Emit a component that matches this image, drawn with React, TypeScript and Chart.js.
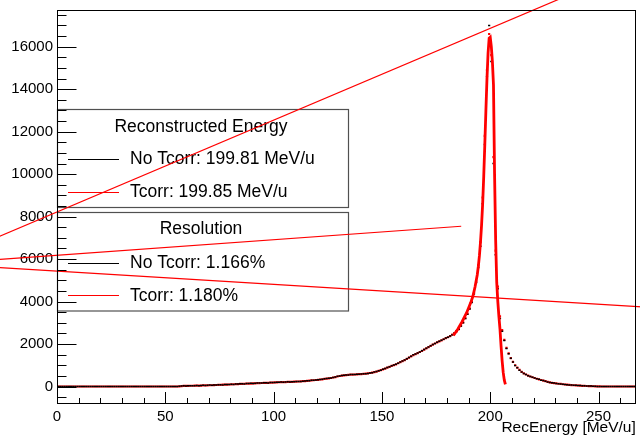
import React, { useEffect, useRef } from 'react';
import { Chart, registerables } from 'chart.js';

Chart.register(...registerables);

// ---- axis ranges & ticks ----
const X_MIN = 0;
const X_MAX = 267.2;
const Y_MIN = -824;
const Y_MAX = 17729;
const xTickValues = [0, 50, 100, 150, 200, 250];
const yTickValues = [0, 2000, 4000, 6000, 8000, 10000, 12000, 14000, 16000];
const xMinorStep = 10;
const yMinorStep = 500;

// ---- histogram binning (1 MeV/u bins starting at 0) ----
const binLow = 0;
const binWidth = 1;

// RecEnergy histogram, no Tcorr (black)
const noTcorrCounts = [
  0, 0, 0, 0, 0, 0, 0, 0, 0, 0,
  0, 0, 0, 0, 0, 0, 0, 0, 0, 0,
  0, 0, 0, 0, 0, 0, 0, 0, 0, 0,
  0, 0, 0, 0, 0, 0, 0, 0, 0, 0,
  0, 0, 0, 0, 0, 0, 0, 0, 0, 0,
  0, 0, 0, 0, 0,
  0, 15, 25, 30, 20, 35, 30, 40, 35, 45,
  40, 50, 55, 45, 60, 65, 55, 70, 75, 80,
  85, 75, 90, 95, 100, 105, 95, 115, 120, 125,
  130, 120, 140, 145, 150, 140, 155, 160, 165, 160,
  175, 180, 170, 185, 190, 185, 195, 200, 210, 205,
  210, 220, 215, 225, 220, 230, 240, 235, 250, 260,
  270, 265, 290, 300, 310, 320, 330, 345, 360, 375,
  390, 405, 420, 450, 480, 500, 520, 530, 540, 545,
  560, 565, 570, 575, 580, 590, 600, 605, 615, 630,
  650, 680, 710, 740, 770, 810, 850, 890, 930, 975,
  1010, 1050, 1100, 1150, 1200, 1250, 1310, 1370, 1430, 1490,
  1530, 1580, 1630, 1680, 1740, 1800, 1860, 1920, 1980, 2030,
  2080, 2130, 2180, 2230, 2280, 2320, 2380, 2440, 2520, 2620,
  2700, 2850, 3000, 3200, 3400, 3650, 3950, 4350, 4900, 5600,
  6600, 8600, 11400, 14600, 17000, 15300, 10500, 6200, 4600, 3200,
  2600, 2170, 1790, 1540, 1330, 1150, 990, 880, 770, 680,
  610, 560, 510, 470, 430, 400, 370, 340, 300, 280,
  250, 210, 190, 175, 160, 145, 135, 120, 105, 95,
  85, 75, 70, 60, 55, 48, 42, 35, 30, 25,
  20, 18, 12, 8, 5, 3, 0,
  0, 0, 0, 0, 0, 0, 0, 0, 0, 0,
  0, 0, 0, 0, 0,
];

// RecEnergy histogram, Tcorr (red)
const tcorrCounts = [
  0, 0, 0, 0, 0, 0, 0, 0, 0, 0,
  0, 0, 0, 0, 0, 0, 0, 0, 0, 0,
  0, 0, 0, 0, 0, 0, 0, 0, 0, 0,
  0, 0, 0, 0, 0, 0, 0, 0, 0, 0,
  0, 0, 0, 0, 0, 0, 0, 0, 0, 0,
  0, 0, 0, 0, 0,
  0, 10, 20, 25, 25, 30, 35, 35, 40, 40,
  45, 45, 50, 50, 55, 60, 60, 65, 70, 75,
  80, 85, 85, 90, 95, 100, 105, 110, 115, 120,
  125, 130, 135, 140, 140, 145, 150, 155, 160, 165,
  170, 175, 175, 180, 185, 190, 195, 200, 205, 205,
  210, 215, 220, 220, 225, 230, 235, 240, 250, 255,
  265, 275, 285, 295, 305, 315, 330, 340, 355, 370,
  385, 400, 425, 445, 470, 495, 515, 525, 535, 545,
  555, 560, 565, 570, 580, 585, 595, 605, 620, 635,
  655, 675, 705, 735, 770, 805, 845, 885, 925, 970,
  1005, 1045, 1095, 1145, 1195, 1245, 1300, 1360, 1420, 1480,
  1525, 1575, 1625, 1680, 1735, 1795, 1855, 1915, 1975, 2025,
  2075, 2125, 2175, 2225, 2275, 2320, 2375, 2440, 2510, 2600,
  2700, 2860, 3020, 3220, 3430, 3680, 3990, 4400, 4950, 5700,
  6800, 8900, 11800, 14900, 16600, 15600, 10800, 6400, 4700, 3300,
  2650, 2200, 1820, 1560, 1340, 1160, 1000, 890, 780, 690,
  615, 565, 515, 470, 435, 400, 365, 335, 305, 280,
  250, 215, 195, 175, 160, 145, 130, 120, 105, 95,
  85, 78, 68, 60, 52, 46, 40, 34, 28, 24,
  20, 16, 12, 8, 5, 2, 0,
  0, 0, 0, 0, 0, 0, 0, 0, 0, 0,
  0, 0, 0, 0, 0,
];

// peak fit function (thick red)
const fitEnergy = [183, 185, 187, 189, 190, 191, 192, 193, 194, 194.5, 195, 195.5, 196, 196.5, 197, 197.5, 198, 198.5, 199, 199.5, 200, 200.5, 201, 201.5, 202, 202.5, 203, 203.5, 204, 204.5, 205, 205.5, 206, 206.5, 207];
const fitCounts = [2400, 2700, 3050, 3450, 3700, 3950, 4250, 4700, 5250, 5650, 6150, 6800, 7600, 8600, 9900, 11400, 13000, 14500, 15700, 16400, 16450, 16000, 15300, 14200, 10000, 6900, 4900, 4000, 3300, 2700, 1900, 1200, 650, 300, 100];

// straight fit lines (thin red)
const line1Energy = [-30, 240];
const line1Counts = [6920, 18595];
const line2Energy = [-30, 186.6];
const line2Counts = [5964, 7545];
const line3Energy = [-30, 270];
const line3Counts = [5617, 3748];

// legend texts
const legend1Title = 'Reconstructed Energy';
const legend1Entries = ['No Tcorr: 199.81 MeV/u', 'Tcorr: 199.85 MeV/u'];
const legend2Title = 'Resolution';
const legend2Entries = ['No Tcorr: 1.166%', 'Tcorr: 1.180%'];
const entryColors = ['#000000', '#ff0000'];

const FONT = '"Liberation Sans", Arial, Helvetica, sans-serif';

const toXY = (xs: number[], ys: number[]) => xs.map((x, i) => ({ x, y: ys[i] }));
const histXY = (counts: number[]) => counts.map((c, i) => ({ x: binLow + (i + 0.5) * binWidth, y: c }));

const rootPlugin = {
  id: 'rootDecor',
  beforeDatasetsDraw(chart: any) {
    const ctx = chart.ctx;
    const boxes = [
      { top: 109.5, bottom: 207.5, title: legend1Title, titleY: 127, entries: legend1Entries, ys: [158.5, 191.5] },
      { top: 212.5, bottom: 311, title: legend2Title, titleY: 229.5, entries: legend2Entries, ys: [262.5, 295] },
    ];
    const left = 57.5;
    const right = 348.5;
    ctx.save();
    boxes.forEach((b) => {
      ctx.strokeStyle = '#505050';
      ctx.lineWidth = 1.2;
      ctx.strokeRect(left, b.top, right - left, b.bottom - b.top);
      ctx.fillStyle = '#000';
      ctx.font = `17.5px ${FONT}`;
      ctx.textBaseline = 'middle';
      ctx.textAlign = 'center';
      ctx.fillText(b.title, 201, b.titleY);
      ctx.textAlign = 'left';
      b.entries.forEach((t, i) => {
        ctx.strokeStyle = entryColors[i];
        ctx.lineWidth = 1;
        ctx.beginPath();
        ctx.moveTo(68, Math.round(b.ys[i]) + 0.5);
        ctx.lineTo(119, Math.round(b.ys[i]) + 0.5);
        ctx.stroke();
        ctx.fillStyle = '#000';
        ctx.fillText(t, 130, b.ys[i] + 1);
      });
    });
    ctx.restore();
  },
  afterDraw(chart: any) {
    const ctx = chart.ctx;
    const { left, right, top, bottom } = chart.chartArea;
    const xs = chart.scales.x;
    const ys = chart.scales.y;
    ctx.save();
    ctx.strokeStyle = '#000';
    ctx.lineWidth = 1;
    ctx.strokeRect(Math.round(left) + 0.5, Math.round(top) + 0.5, Math.round(right - left) - 1, Math.round(bottom - top) - 1);
    ctx.beginPath();
    const lx = Math.round(left) + 0.5;
    for (let v = Math.ceil(Y_MIN / yMinorStep) * yMinorStep; v <= Y_MAX; v += yMinorStep) {
      const py = Math.round(ys.getPixelForValue(v)) + 0.5;
      const major = v % 2000 === 0;
      ctx.moveTo(lx, py);
      ctx.lineTo(lx + (major ? 19 : 9), py);
    }
    const by = Math.round(bottom) - 0.5;
    for (let v = 0; v <= X_MAX; v += xMinorStep) {
      const px = Math.round(xs.getPixelForValue(v)) + 0.5;
      const major = v % 50 === 0;
      ctx.moveTo(px, by);
      ctx.lineTo(px, by - (major ? 11.5 : 5.5));
    }
    ctx.stroke();
    ctx.restore();
  },
};

export default function App() {
  const canvasRef = useRef<HTMLCanvasElement | null>(null);

  useEffect(() => {
    if (!canvasRef.current) return;
    const chart = new Chart(canvasRef.current, {
      type: 'scatter',
      data: {
        datasets: [
          { data: toXY(line1Energy, line1Counts), showLine: true, borderColor: '#ff0000', borderWidth: 1.2, pointRadius: 0, clip: false as any },
          { data: toXY(line2Energy, line2Counts), showLine: true, borderColor: '#ff0000', borderWidth: 1.2, pointRadius: 0, clip: false as any },
          { data: toXY(line3Energy, line3Counts), showLine: true, borderColor: '#ff0000', borderWidth: 1.2, pointRadius: 0, clip: false as any },
          { data: toXY(fitEnergy, fitCounts), showLine: true, borderColor: '#ff0000', borderWidth: 2.8, pointRadius: 0 },
          { data: histXY(noTcorrCounts), pointStyle: 'line', pointRadius: 1.1, pointBorderWidth: 1.5, pointBorderColor: '#000000', pointBackgroundColor: '#000000' },
          { data: histXY(tcorrCounts), pointStyle: 'line', pointRadius: 1.1, pointBorderWidth: 2.2, pointBorderColor: '#ff0000', pointBackgroundColor: '#ff0000' },
        ],
      },
      options: {
        animation: false,
        responsive: false,
        devicePixelRatio: 1,
        layout: { padding: { top: 10, right: 3, left: 0, bottom: 0 } },
        plugins: { legend: { display: false }, tooltip: { enabled: false } },
        scales: {
          x: {
            type: 'linear',
            min: X_MIN,
            max: X_MAX,
            grid: { display: false, drawTicks: false },
            border: { display: false },
            afterBuildTicks: (s: any) => { s.ticks = xTickValues.map((v) => ({ value: v })); },
            afterFit: (s: any) => { s.height = 37; s.paddingLeft = 0; s.paddingRight = 0; s.paddingTop = 0; s.paddingBottom = 0; },
            ticks: { color: '#000', font: { family: FONT, size: 15 }, padding: 4, maxRotation: 0, callback: (v: any) => String(v) },
            title: { display: true, text: 'RecEnergy [MeV/u]', align: 'end', color: '#000', font: { family: FONT, size: 15.5 }, padding: { top: 0, bottom: 4 } },
          },
          y: {
            type: 'linear',
            min: Y_MIN,
            max: Y_MAX,
            grid: { display: false, drawTicks: false },
            border: { display: false },
            afterBuildTicks: (s: any) => { s.ticks = yTickValues.map((v) => ({ value: v })); },
            afterFit: (s: any) => { s.width = 57; s.paddingTop = 0; s.paddingBottom = 0; s.paddingLeft = 0; s.paddingRight = 0; },
            ticks: { color: '#000', font: { family: FONT, size: 15 }, padding: 4, callback: (v: any) => String(v) },
          },
        },
      } as any,
      plugins: [rootPlugin],
    });
    return () => chart.destroy();
  }, []);

  return (
    <div style={{ position: 'fixed', left: 0, top: 0, width: 640, height: 441, overflow: 'hidden', background: '#fff' }}>
      <canvas ref={canvasRef} width={642} height={441} style={{ width: 642, height: 441, display: 'block' }} />
    </div>
  );
}
